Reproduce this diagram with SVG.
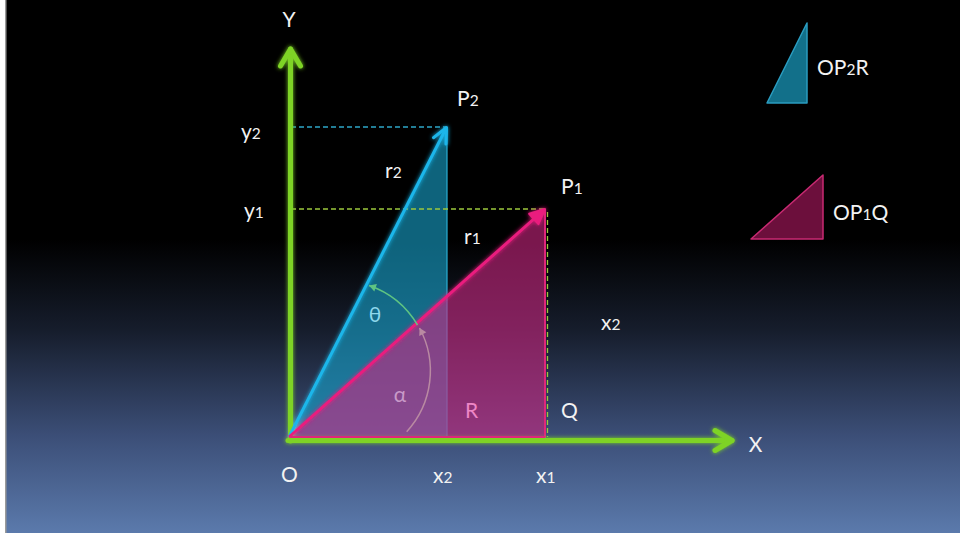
<svg xmlns="http://www.w3.org/2000/svg" width="960" height="533" viewBox="0 0 960 533">
  <defs>
    <linearGradient id="bg" x1="0" y1="0" x2="0" y2="533" gradientUnits="userSpaceOnUse">
      <stop offset="0" stop-color="#000000"/>
      <stop offset="0.45" stop-color="#000000"/>
      <stop offset="0.62" stop-color="#161d2c"/>
      <stop offset="0.82" stop-color="#3c4f78"/>
      <stop offset="1" stop-color="#5b7aac"/>
    </linearGradient>
    <filter id="glow" filterUnits="userSpaceOnUse" x="0" y="0" width="960" height="533">
      <feGaussianBlur in="SourceGraphic" stdDeviation="2.2" result="b"/>
      <feMerge><feMergeNode in="b"/><feMergeNode in="SourceGraphic"/></feMerge>
    </filter>
    <marker id="axisHead" markerUnits="userSpaceOnUse" markerWidth="40" markerHeight="40" refX="0" refY="0" orient="auto" style="overflow:visible">
      <path d="M-17,-10 L0,0 L-17,10" fill="none" stroke="#7ed325" stroke-width="5" stroke-linecap="round" stroke-linejoin="round"/>
    </marker>
    <marker id="blueHead" markerUnits="userSpaceOnUse" markerWidth="30" markerHeight="30" refX="0" refY="0" orient="auto" style="overflow:visible">
      <path d="M-15,-7 L0,0 L-15,7" fill="none" stroke="#1cb6ea" stroke-width="3" stroke-linecap="round" stroke-linejoin="round"/>
    </marker>
    <marker id="pinkHead" markerUnits="userSpaceOnUse" markerWidth="30" markerHeight="30" refX="0" refY="0" orient="auto" style="overflow:visible">
      <path d="M-15,-7 L0,0 L-15,7 Z" fill="#ea1c7e" stroke="#ea1c7e" stroke-width="2" stroke-linejoin="round"/>
    </marker>
    <marker id="thetaHead" markerUnits="userSpaceOnUse" markerWidth="20" markerHeight="20" refX="0" refY="0" orient="auto" style="overflow:visible">
      <path d="M-7,-4 L0,0 L-7,4 Z" fill="#5ec482"/>
    </marker>
    <marker id="alphaHead" markerUnits="userSpaceOnUse" markerWidth="20" markerHeight="20" refX="0" refY="0" orient="auto" style="overflow:visible">
      <path d="M-7,-4 L0,0 L-7,4 Z" fill="#b98aa2"/>
    </marker>
    <style>
      .lbl { font-family: Lato, "Open Sans", "Liberation Sans", sans-serif; font-size: 21px; fill: #f2f2f2; }
      .sub { font-size: 15.5px; }
      .axis { fill: none; stroke: #7ed325; stroke-width: 5; stroke-linecap: round; }
      .dashG { fill: none; stroke: #9cc83c; stroke-width: 1.3; stroke-dasharray: 5 3; }
      .dashB { fill: none; stroke: #2ea6c8; stroke-width: 1.3; stroke-dasharray: 5 3; }
    </style>
  </defs>

  <!-- background -->
  <rect x="0" y="0" width="960" height="533" fill="url(#bg)"/>
  <rect x="0" y="0" width="5" height="533" fill="#ffffff"/>
  <rect x="5" y="0" width="1.5" height="533" fill="#9a9a9a"/>

  <!-- filled triangles -->
  <g id="triangle-OP2R">
    <polygon points="289,437 447,127 447,437" fill="#16a0c8" fill-opacity="0.62"/>
    <line x1="447" y1="128" x2="447" y2="437" stroke="#2ab0d6" stroke-width="1.2"/>
  </g>
  <g id="triangle-OP1Q">
    <polygon points="289,437 545,209 545,437" fill="#cc2680" fill-opacity="0.6"/>
    <polyline points="545,209 545,437 289,437" fill="none" stroke="#e0267c" stroke-width="2"/>
  </g>

  <!-- connectors -->
  <g id="connectors">
    <path class="dashB" d="M291,127 H446"/>
    <path class="dashG" d="M291,209 H545"/>
    <path class="dashG" d="M547.5,212 V437"/>
    <g filter="url(#glow)">
      <path id="y-axis" class="axis" d="M290.5,441 V49" marker-end="url(#axisHead)"/>
      <path id="x-axis" class="axis" d="M288,440.5 H732" marker-end="url(#axisHead)"/>
      <path id="vec-r2" d="M289,437 L446.5,127.5" fill="none" stroke="#1cb6ea" stroke-width="3" marker-end="url(#blueHead)"/>
      <path id="vec-r1" d="M289,437 L545,209" fill="none" stroke="#ea1c7e" stroke-width="3" marker-end="url(#pinkHead)"/>
    </g>
    <line x1="289" y1="437" x2="545" y2="437" stroke="#e0267c" stroke-width="2"/>
    <path id="arc-alpha" d="M406.7,431.7 A90,90 0 0,0 419.5,328" fill="none" stroke="#b98aa2" stroke-width="1.5" marker-end="url(#alphaHead)"/>
    <path id="arc-theta" d="M417.5,325 A90,90 0 0,0 369,285.5" fill="none" stroke="#5ec482" stroke-width="1.5" marker-end="url(#thetaHead)"/>
  </g>

  <!-- labels -->
  <g id="labels">
    <text class="lbl" x="289" y="27" text-anchor="middle">Y</text>
    <text class="lbl" x="457" y="106">P<tspan class="sub">2</tspan></text>
    <text class="lbl" x="241" y="139">y<tspan class="sub">2</tspan></text>
    <text class="lbl" x="385" y="178">r<tspan class="sub">2</tspan></text>
    <text class="lbl" x="561" y="194">P<tspan class="sub">1</tspan></text>
    <text class="lbl" x="244" y="218">y<tspan class="sub">1</tspan></text>
    <text class="lbl" x="464" y="244">r<tspan class="sub">1</tspan></text>
    <text class="lbl" x="375" y="322" text-anchor="middle" style="fill:#8fd8ec">θ</text>
    <text class="lbl" x="400" y="402" text-anchor="middle" style="fill:#c89ac8">α</text>
    <text class="lbl" x="471.5" y="418" text-anchor="middle" style="fill:#ee86c6">R</text>
    <text class="lbl" x="569.5" y="418" text-anchor="middle">Q</text>
    <text class="lbl" x="601" y="330">x<tspan class="sub">2</tspan></text>
    <text class="lbl" x="755.5" y="452" text-anchor="middle">X</text>
    <text class="lbl" x="289.5" y="482" text-anchor="middle">O</text>
    <text class="lbl" x="433" y="483">x<tspan class="sub">2</tspan></text>
    <text class="lbl" x="536" y="483">x<tspan class="sub">1</tspan></text>
  </g>

  <!-- legend -->
  <g id="legend-OP2R">
    <polygon points="767,103 807,23 807,103" fill="#12708a" stroke="#2a9cc0" stroke-width="1.5" stroke-linejoin="round"/>
    <text class="lbl" x="817" y="75">OP<tspan class="sub">2</tspan>R</text>
  </g>
  <g id="legend-OP1Q">
    <polygon points="751,239 823,175 823,239" fill="#6c0f3c" stroke="#c82a72" stroke-width="1.5" stroke-linejoin="round"/>
    <text class="lbl" x="833" y="220">OP<tspan class="sub">1</tspan>Q</text>
  </g>
</svg>
